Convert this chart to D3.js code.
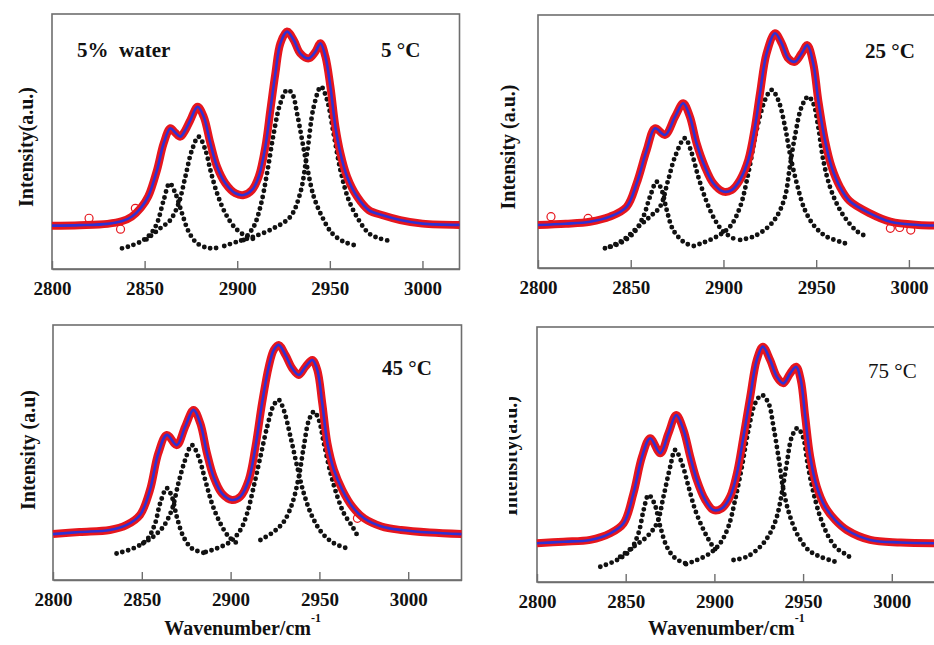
<!DOCTYPE html>
<html>
<head>
<meta charset="utf-8">
<script src="https://cdnjs.cloudflare.com/ajax/libs/d3/7.8.5/d3.min.js"></script>
<style>
  body { margin: 0; background: #fff; }
  svg text { font-family: "Liberation Serif", "Times New Roman", serif; font-weight: bold; fill: #111; }
</style>
</head>
<body>
<svg id="chart" width="934" height="645"></svg>
<script>

// ---- data (wavenumber, intensity a.u.) ----

var xTicks = [2800, 2850, 2900, 2950, 3000]
var xMax = [3020, 3020, 3030, 3030]
var tempLabels = ["5 °C", "25 °C", "45 °C", "75 °C"]
var yLabels = ["Intensity(a.u.)", "Intensity (a.u.)", "Intensity (a.u)", "Intensity(a.u.)"]

// measured + fitted envelope, 5 °C
var fit5 = [[2800,17],[2815,17.2],[2830,17.7],[2838,18.8],[2843,20.5],[2848,24],[2852,28.5],[2856.7,38.8],[2860.3,49.3],[2863.9,55.2],[2866.5,53.5],[2869.3,51.9],[2872,54.5],[2874.7,58.4],[2878.6,63.6],[2881.9,59.7],[2885.5,49.3],[2889.1,40.1],[2893.6,33.6],[2899,29.7],[2903.5,29],[2908,31],[2911.6,36.2],[2915.2,48],[2917.9,62.4],[2920.6,76.7],[2923.3,88.5],[2926.9,93.1],[2930.5,89.8],[2934,84.6],[2938.6,82.6],[2942.2,85.2],[2944.9,88.5],[2947.6,83.3],[2950.3,71.5],[2953,55.8],[2955.7,45.4],[2959.3,36.2],[2964.7,28.4],[2971,23.1],[2979,21],[2988,19.2],[3000,17.8],[3020,17.3]]
var bands5 = [
  [[2837.8,8.1],[2843,9.2],[2849.5,11.4],[2853.5,14],[2856.7,17.9],[2860.3,27],[2863.5,33.6],[2866.6,29.7],[2870.2,21.8],[2873.8,14.6],[2878.3,10.1],[2885.5,8.1],[2891,8.6]],
  [[2851,11.6],[2858.5,16],[2863.9,19.2],[2868.4,25.8],[2872,36.2],[2875.6,46.7],[2879.2,51.9],[2882.8,46.7],[2885.5,38.8],[2889.1,29.7],[2893.6,21.8],[2899,16],[2905.3,12.7],[2910.7,11.4]],
  [[2903.5,11.4],[2908.9,16.6],[2912.5,24.4],[2916.1,37.5],[2919.7,53.2],[2923.3,65],[2926.9,70.2],[2929.6,68.9],[2932.3,61],[2935,50.6],[2937.7,40.1],[2941.3,28.4],[2945.8,20.5],[2951.2,14],[2957.5,10.7],[2962.9,9.4]],
  [[2893,9],[2899.9,10.7],[2908.9,12.7],[2919.7,16],[2928.7,20.5],[2934,29.7],[2937.7,45.4],[2941.3,63.6],[2945.2,71.5],[2948.5,66.3],[2952,53.2],[2955.7,38.8],[2960.2,27],[2965.6,19.2],[2971,14],[2976,12.2],[2981,11.2]]
]
var open5 = [[2820,19.9],[2837,15.6],[2845,23.8]]

// 25 °C
var fit25 = [[2800,17],[2815,17.5],[2828,18.3],[2838.8,20.3],[2847.8,24.2],[2853.2,33.5],[2858.6,46.6],[2863.1,55.2],[2868.5,52.6],[2873.9,59.8],[2878.3,65.1],[2881.9,59.8],[2885.5,49.3],[2890,40],[2894.5,33.5],[2899.9,30.2],[2904.4,30.8],[2908.9,34.8],[2913.4,42.7],[2917,55.8],[2919.7,69],[2923.3,84.9],[2927.8,92.8],[2931.4,88.8],[2934.9,82.9],[2938.5,81.5],[2942.2,84.9],[2945.2,88.1],[2948.4,80.9],[2951.1,66.4],[2954.7,50.6],[2958.3,40],[2962.8,32.1],[2968,26.5],[2979,21.6],[2990,18.3],[3005,17],[3020,16.8]]
var bands25 = [
  [[2836.1,7.8],[2844.2,9.8],[2851.4,13.7],[2856.8,20.3],[2860.4,28.2],[2864,34.1],[2866.7,30.8],[2869.4,22.9],[2872.9,15],[2878.3,10.4],[2882,9]],
  [[2838.8,8.4],[2846,11.1],[2853.2,15.7],[2860.4,20.3],[2865.8,24.2],[2870.2,34.8],[2873.9,44],[2879.2,51.3],[2882.9,45.3],[2886.4,36.1],[2890.9,26.2],[2895.4,19],[2899.9,14.4],[2905.3,11.7]],
  [[2884,8.7],[2889.1,10],[2896.3,12.4],[2903.5,16.3],[2909,24.2],[2913.4,37.4],[2917.9,54.5],[2922.4,66.4],[2926,70.4],[2929.5,66.4],[2933.2,55.8],[2935.8,45.3],[2939.5,33.5],[2943.9,22.9],[2949.3,16.3],[2955.6,12.4],[2965.5,9.8]],
  [[2909,11.1],[2916.1,12.4],[2923.3,15.7],[2928.7,20.3],[2933.2,28.2],[2935.8,40],[2938.5,51.9],[2942.2,63.8],[2945.7,67.7],[2948.4,65.1],[2951.1,55.8],[2953.8,42.7],[2957.4,32.1],[2961.9,24.2],[2966.4,19],[2972,14.5],[2978,12.1]]
]
var open25 = [[2807,20.3],[2827,19.6],[2990,15.7],[2995,16],[3001,15]]

// 45 °C
var fit45 = [[2800,18],[2815,18.8],[2832,19.6],[2841.5,21.6],[2849,25.5],[2854.6,35.3],[2859.3,49.7],[2864.1,56.9],[2869.7,52.9],[2874.4,60.1],[2879.1,66.7],[2882.9,61.5],[2886.7,49.7],[2890.4,40.5],[2895.1,34],[2900.8,31.4],[2905.5,32.7],[2910.2,39.2],[2914,52.3],[2917.7,69.3],[2921.5,83.7],[2924.3,90.2],[2927.1,92.2],[2930.9,88.2],[2934.7,83],[2938.4,80.4],[2942.2,83.7],[2946,86.3],[2948.8,82.4],[2951.6,69.3],[2954.5,53.6],[2958.2,43.1],[2962.9,35.3],[2968.6,28.7],[2975.1,24.2],[2985,21],[2996,19.6],[3012,18.6],[3030,18]]
var bands45 = [
  [[2835.8,10.4],[2845.2,12.4],[2852.8,15.7],[2857.5,22.2],[2860.3,30],[2864.1,36],[2866.9,32.7],[2869.7,24.8],[2873.4,17],[2878.2,12.4],[2884.7,10.7]],
  [[2850.8,14.4],[2856.5,17],[2862.1,20.9],[2866.9,27.5],[2870.6,37.9],[2874.4,47.1],[2878.2,52.9],[2881.9,48.4],[2885.7,39.2],[2889.5,30],[2894.2,22.2],[2898.9,17],[2903.6,14.4]],
  [[2886,11],[2892.3,12.4],[2899.8,15],[2905.5,19.6],[2909.3,26.1],[2913,36.6],[2916.8,48.4],[2920.6,60.1],[2924.3,68.6],[2927.1,70.6],[2929.9,66.7],[2933.7,56.2],[2937.5,44.4],[2941.2,34],[2946,24.8],[2951.6,18.3],[2958.2,14.4],[2965.8,12.4]],
  [[2916.8,15.7],[2924.3,18.9],[2930,22.9],[2934.7,30],[2938.4,40.5],[2941.2,52.3],[2944.1,62.7],[2946.9,66],[2949.7,62.7],[2952.5,53.6],[2956.3,41.8],[2960.1,32.7],[2963.8,26.1],[2968.6,20.9],[2972.3,16.3]]
]
var open45 = [[2971.4,24.2]]

// 75 °C
var fit75 = [[2800,15.2],[2815,15.8],[2830,16.5],[2841.3,19.1],[2848.8,23],[2854.4,34.8],[2859.2,49.1],[2863.8,56.4],[2869.5,50.5],[2874.1,58.3],[2878.5,65.5],[2882.6,59.6],[2886.4,49.1],[2890.1,40],[2894.8,32.2],[2899.5,28.2],[2904.2,28.9],[2908.9,33.5],[2912.7,42.6],[2916.4,57],[2920.2,72.7],[2923.9,87.1],[2927.3,92.3],[2931.4,87.1],[2935.2,80.5],[2938.9,77.9],[2942.7,81.8],[2946.1,84.4],[2948.7,79.2],[2951.2,64.8],[2954,49.1],[2957.7,37.4],[2962.4,29.5],[2968.1,24.3],[2974.6,20.4],[2987.8,16.5],[3005,15.5],[3030,15.2]]
var bands75 = [
  [[2835.7,6],[2845.1,8.6],[2852.6,12.5],[2857.2,19.1],[2860.1,28.2],[2862.9,34.1],[2866.1,30.9],[2869.5,21.7],[2873.2,13.8],[2877.9,9.3],[2883.6,7.3]],
  [[2846.9,9.9],[2854.4,13.8],[2862,17.8],[2867.6,23],[2871.3,33.5],[2875.1,45.2],[2877.9,51.8],[2881.7,46.5],[2885.4,37.4],[2889.2,28.2],[2893.9,20.4],[2898.6,14.5],[2902.3,11.3]],
  [[2884,7],[2890.1,8.6],[2897.6,11.3],[2903.3,15.2],[2907.9,21.7],[2911.7,32.2],[2915.5,45.2],[2919.2,59.6],[2923,70.1],[2926.8,73.3],[2930.5,70.1],[2933.3,60.9],[2936.1,49.1],[2938.9,36.1],[2942.7,25.6],[2947.4,17.8],[2953,12.5],[2959.6,9.9],[2968,8]],
  [[2910.8,8.6],[2918.3,9.9],[2925.8,13.8],[2931.4,19.1],[2935.2,25.6],[2938,34.8],[2940.8,46.5],[2943.7,57],[2946.8,60.3],[2949.9,57],[2952.5,46.5],[2955.5,36.1],[2959.6,25.6],[2964.3,17.8],[2969,13.2],[2974.6,10.6],[2978.4,8.9]]
]
var open75 = []

// ---- layout ----

var panels = [
  {fit: fit5,  bands: bands5,  open: open5,  left: 52,  top: 14,  right: 459.5, bottom: 269, tx: 381, ty: 57,  lx: 33,  ly: 147},
  {fit: fit25, bands: bands25, open: open25, left: 538, top: 15,  right: 946,   bottom: 268, tx: 865, ty: 58,  lx: 515, ly: 147},
  {fit: fit45, bands: bands45, open: open45, left: 53,  top: 325, right: 461.5, bottom: 580, tx: 382, ty: 375, lx: 35,  ly: 450},
  {fit: fit75, bands: bands75, open: open75, left: 537, top: 327, right: 945,   bottom: 582, tx: 868, ty: 378, lx: 517, ly: 456}
]

var svg = d3.select("#chart")

// the last y label is half cut off in the original
svg.append("defs")
  .append("clipPath")
    .attr("id", "cut")
  .append("rect")
    .attr("x", 509).attr("y", 370).attr("width", 25).attr("height", 170)

panels.forEach(function (p, i) {

  var x = d3.scaleLinear().domain([2800, xMax[i]]).range([p.left, p.right])
  var y = d3.scaleLinear().domain([0, 100]).range([p.bottom, p.top])

  var line = d3.line()
      .x(d => x(d[0]))
      .y(d => y(d[1]))
      .curve(d3.curveCatmullRom.alpha(0.5))

  var g = svg.append("g")

  // frame
  g.append("rect")
      .attr("x", p.left)
      .attr("y", p.top)
      .attr("width", p.right - p.left)
      .attr("height", p.bottom - p.top)
      .attr("fill", "none")
      .attr("stroke", "#6e6e6e")
      .attr("stroke-width", 1.6)

  // bottom axis, ticks pointing inwards
  var ax = g.append("g")
      .attr("transform", "translate(0," + p.bottom + ")")
      .call(d3.axisBottom(x).tickValues(xTicks).tickSizeInner(-8).tickSizeOuter(0).tickPadding(13).tickFormat(d3.format("d")))
  ax.select(".domain").attr("stroke", "#6e6e6e").attr("stroke-width", 1.6)
  ax.selectAll(".tick line").attr("stroke", "#6e6e6e").attr("stroke-width", 1.4)
  ax.selectAll(".tick text")
      .attr("font-size", 19)
      .attr("font-family", "Liberation Serif, serif")
      .attr("fill", "#111")

  // fitted components as black dots
  g.append("g")
    .selectAll("path")
    .data(p.bands)
    .join("path")
      .attr("d", line)
      .attr("fill", "none")
      .attr("stroke", "#111")
      .attr("stroke-width", 4.9)
      .attr("stroke-linecap", "round")
      .attr("stroke-dasharray", "0,6")

  // measured spectrum (red) and total fit (blue)
  g.append("path")
      .datum(p.fit)
      .attr("d", line)
      .attr("fill", "none")
      .attr("stroke", "#e6161d")
      .attr("stroke-width", 8)
      .attr("stroke-linejoin", "round")

  g.selectAll("circle.open")
    .data(p.open)
    .join("circle")
      .attr("class", "open")
      .attr("cx", d => x(d[0]))
      .attr("cy", d => y(d[1]))
      .attr("r", 4)
      .attr("fill", "none")
      .attr("stroke", "#e6161d")
      .attr("stroke-width", 1.2)

  g.append("path")
      .datum(p.fit)
      .attr("d", line)
      .attr("fill", "none")
      .attr("stroke", "#3030d2")
      .attr("stroke-width", 2.6)
      .attr("stroke-linejoin", "round")

  // temperature
  g.append("text")
      .attr("x", p.tx)
      .attr("y", p.ty)
      .attr("font-size", 21)
      .style("font-weight", i == 3 ? "normal" : "bold")
      .text(tempLabels[i])

  // y label
  var holder = g.append("g")
  if (i == 3) holder.attr("clip-path", "url(#cut)")
  holder.append("text")
      .attr("transform", "translate(" + p.lx + "," + p.ly + ") rotate(-90)")
      .attr("text-anchor", "middle")
      .attr("font-size", 20)
      .text(yLabels[i])

  // x label on the bottom row
  if (i >= 2) {
    var xl = g.append("text")
        .attr("x", (p.left + x(3000)) / 2 + 12)
        .attr("y", 635)
        .attr("text-anchor", "middle")
        .attr("font-size", 20)
    xl.append("tspan").text("Wavenumber/cm")
    xl.append("tspan").attr("dy", -13).attr("font-size", 12).text("-1")
  }
})

svg.append("text")
    .attr("x", 77)
    .attr("y", 57)
    .attr("font-size", 21)
    .style("white-space", "pre")
    .text("5%  water")

</script>
</body>
</html>
